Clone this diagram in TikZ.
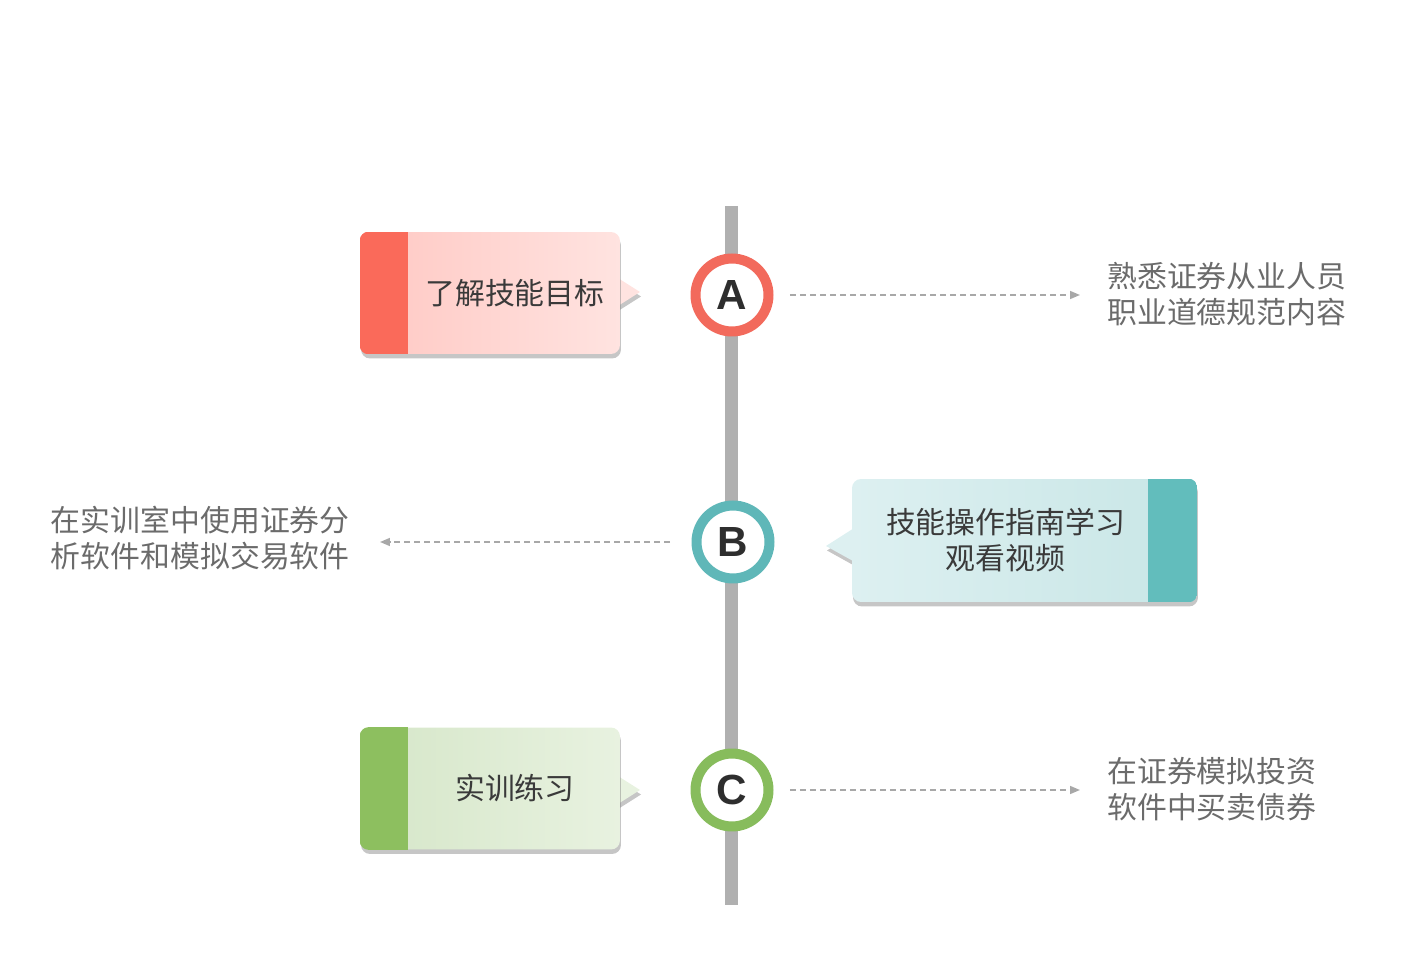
\documentclass[tikz,border=0pt]{standalone}
\usepackage{fontspec}
\usepackage{tikz}
\usepackage{xcolor}
\usetikzlibrary{arrows.meta,shadows,backgrounds}
\newfontfamily\cjk{Noto Sans CJK SC}
\newfontfamily\abcfont{Liberation Sans}
\definecolor{barGray}{HTML}{B0B0B0}
\definecolor{dashGray}{HTML}{A8A8A8}
\definecolor{sideGray}{HTML}{6B6B6B}
\definecolor{lblGray}{HTML}{3A3A3A}
\definecolor{letterGray}{HTML}{2E2E2E}
\definecolor{ringRed}{HTML}{F26A5C}
\definecolor{ringTeal}{HTML}{5FB7B8}
\definecolor{ringGreen}{HTML}{87BC5C}
\definecolor{stripRed}{HTML}{FA6A5A}
\definecolor{stripTeal}{HTML}{62BDBC}
\definecolor{stripGreen}{HTML}{8DBF5F}
\definecolor{cardRedL}{HTML}{FFC8C3}
\definecolor{cardRedR}{HTML}{FFE3E0}
\definecolor{cardTealL}{HTML}{DDF0F1}
\definecolor{cardTealR}{HTML}{C8E6E6}
\definecolor{cardGreenL}{HTML}{D5E6C8}
\definecolor{cardGreenR}{HTML}{E8F2E0}

\begin{document}
\begin{tikzpicture}[x=0.02cm, y=-0.02cm,
  every node/.style={font=\cjk\fontsize{17}{20.5}\selectfont},
  card/.style={rounded corners=0.18cm, minimum height=2.44cm, inner sep=0pt,
    drop shadow={opacity=0.45, shadow xshift=0.02cm, shadow yshift=-0.09cm}},
  tip/.style={drop shadow={opacity=0.45, shadow xshift=0.02cm, shadow yshift=-0.09cm}},
  dot/.style={circle, draw=#1, line width=0.2cm, fill=white, minimum size=1.46cm, inner sep=0pt,
    font=\abcfont\bfseries\fontsize{24}{24}\selectfont, text=letterGray,
    drop shadow={opacity=0.3, shadow xshift=0.03cm, shadow yshift=-0.06cm}},
  link/.style={dash pattern=on 0.12cm off 0.08cm, line width=0.03cm, draw=dashGray,
    -{Triangle[length=0.2cm,width=0.16cm]}},
  side/.style={text=sideGray, align=left, inner sep=0pt},
  lbl/.style={text=lblGray, align=center, inner sep=0pt}]
\useasboundingbox (0,0) rectangle (1424,979);

\coordinate (top) at (731.5,206); \coordinate (bot) at (731.5,905);
\draw[barGray, line width=0.26cm] (top) -- (bot);

% cards
\node[card, minimum width=5.2cm, left color=cardRedL, right color=cardRedR] (bA) at (490,293) {};
\node[card, minimum width=6.9cm, minimum height=2.46cm, left color=cardTealL, right color=cardTealR] (bB) at (1024.5,540.5) {};
\node[card, minimum width=5.2cm, left color=cardGreenL, right color=cardGreenR] (bC) at (490,788.5) {};
\begin{scope}
\clip[rounded corners=0.18cm] (bA.north west) rectangle (bA.south east);
\fill[stripRed] (bA.north west) rectangle ([xshift=0.96cm]bA.south west);
\end{scope}
\begin{scope}
\clip[rounded corners=0.18cm] (bB.north west) rectangle (bB.south east);
\fill[stripTeal] ([xshift=-0.98cm]bB.north east) rectangle (bB.south east);
\end{scope}
\begin{scope}
\clip[rounded corners=0.18cm] (bC.north west) rectangle (bC.south east);
\fill[stripGreen] (bC.north west) rectangle ([xshift=0.96cm]bC.south west);
\end{scope}
\begin{scope}[on background layer]
\fill[cardRedR, tip] (610,273) -- (640,292) -- (610,311) -- cycle;
\fill[cardTealL, tip] (862,523) -- (826,546) -- (862,566) -- cycle;
\fill[cardGreenR, tip] (610,771) -- (640,790) -- (610,809) -- cycle;
\end{scope}
\node[lbl] (lA) at ([xshift=0.5cm]bA.center) {了解技能目标};
\node[lbl] (lB) at ([xshift=-0.38cm]bB.center) {技能操作指南学习\\观看视频};
\node[lbl] (lC) at ([xshift=0.5cm]bC.center) {实训练习};

% timeline dots
\node[dot=ringRed] (cA) at (732,295) {A};
\node[dot=ringTeal] (cB) at (733,542) {B};
\node[dot=ringGreen] (cC) at (732,790) {C};

% side notes
\node[side, anchor=west] (rA) at (1107,294) {熟悉证券从业人员\\职业道德规范内容};
\node[side, anchor=east] (rB) at (350,538) {在实训室中使用证券分\\析软件和模拟交易软件};
\node[side, anchor=west] (rC) at (1107,789) {在证券模拟投资\\软件中买卖债券};

\draw[link, shorten <=0.33cm, shorten >=0.54cm] (cA) -- (cA -| rA.west);
\draw[link, shorten <=0.43cm, shorten >=0.6cm] (cB) -- (cB -| rB.east);
\draw[link, shorten <=0.33cm, shorten >=0.54cm] (cC) -- (cC -| rC.west);
\end{tikzpicture}
\end{document}
